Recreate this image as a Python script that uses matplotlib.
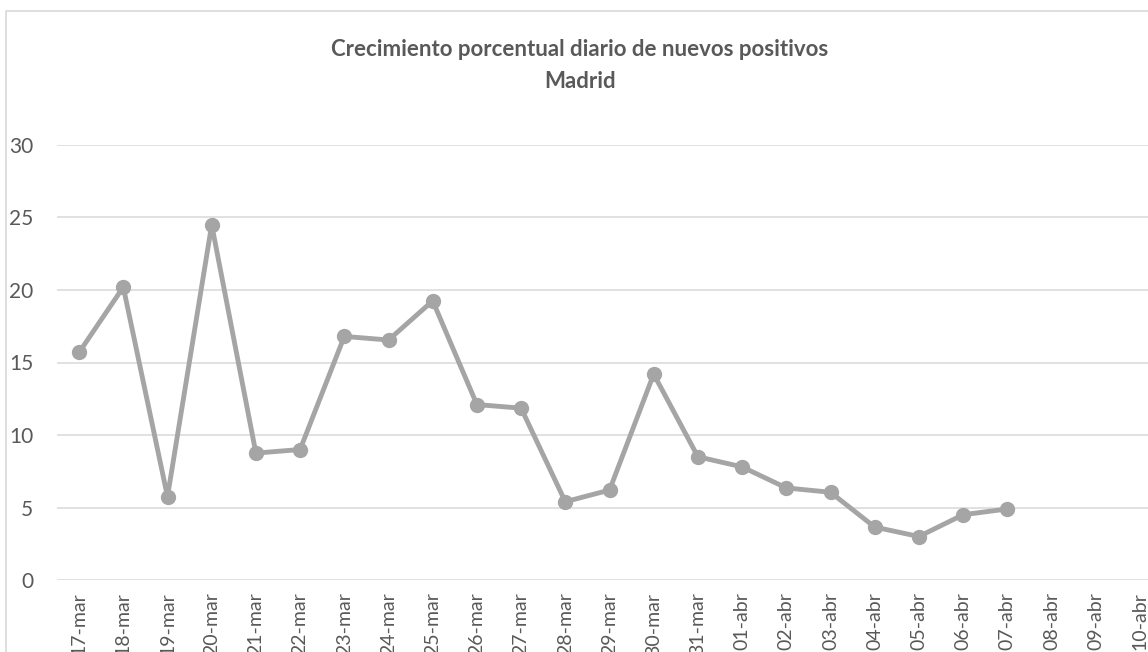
import matplotlib
matplotlib.use('Agg')
import matplotlib.pyplot as plt
from matplotlib.patches import Rectangle

# Data (percent daily growth of new positives, Madrid)
fechas = ['17-mar', '18-mar', '19-mar', '20-mar', '21-mar', '22-mar', '23-mar',
          '24-mar', '25-mar', '26-mar', '27-mar', '28-mar', '29-mar', '30-mar',
          '31-mar', '01-abr', '02-abr', '03-abr', '04-abr', '05-abr', '06-abr',
          '07-abr', '08-abr', '09-abr', '10-abr']
crecimiento = [15.7, 20.2, 5.75, 24.5, 8.75, 9.0, 16.8, 16.55, 19.25, 12.1,
               11.85, 5.4, 6.2, 14.2, 8.5, 7.8, 6.35, 6.05, 3.65, 3.0, 4.5, 4.9]
yticks = [0, 5, 10, 15, 20, 25, 30]

W, H = 1148, 652
txt = '#595959'
plt.rcParams['font.family'] = ['Lato', 'DejaVu Sans']

fig = plt.figure(figsize=(W/100, H/100), dpi=100)
# plot area runs past the right edge of the picture (cropped Excel chart)
ax = fig.add_axes([57/W, 72/H, (1162-57)/W, 435/H])

x = list(range(len(fechas)))
ax.plot(x[:len(crecimiento)], crecimiento, color='#A5A5A5', lw=3.5,
        marker='o', ms=10, solid_capstyle='round', zorder=3)

ax.set_xlim(-0.5, len(fechas)-0.5)
ax.set_ylim(0, 30)
ax.set_yticks(yticks)
ax.set_xticks(x)
ax.set_xticklabels(fechas, rotation=90, va='top', ha='center')
ax.tick_params(axis='y', length=0, pad=17, labelsize=15, labelcolor=txt)
ax.tick_params(axis='x', length=0, pad=9, labelsize=14, labelcolor=txt)
ax.grid(axis='y', color='#D9D9D9', lw=1.1)
ax.set_axisbelow(True)
for s in ax.spines.values():
    s.set_visible(False)

fig.text(580/W, 1-50/H, 'Crecimiento porcentual diario de nuevos positivos',
         ha='center', va='center', fontsize=16, fontweight='bold', color=txt)
fig.text(580/W, 1-82/H, 'Madrid', ha='center', va='center', fontsize=16,
         fontweight='bold', color=txt)

# chart area border (only left and top visible in the crop)
fig.patches.append(Rectangle((5.5/W, -0.2), 2, 1.2-10.5/H, transform=fig.transFigure,
                             fill=False, edgecolor='#D9D9D9', lw=1.2))

fig.savefig('out.png', dpi=100)
